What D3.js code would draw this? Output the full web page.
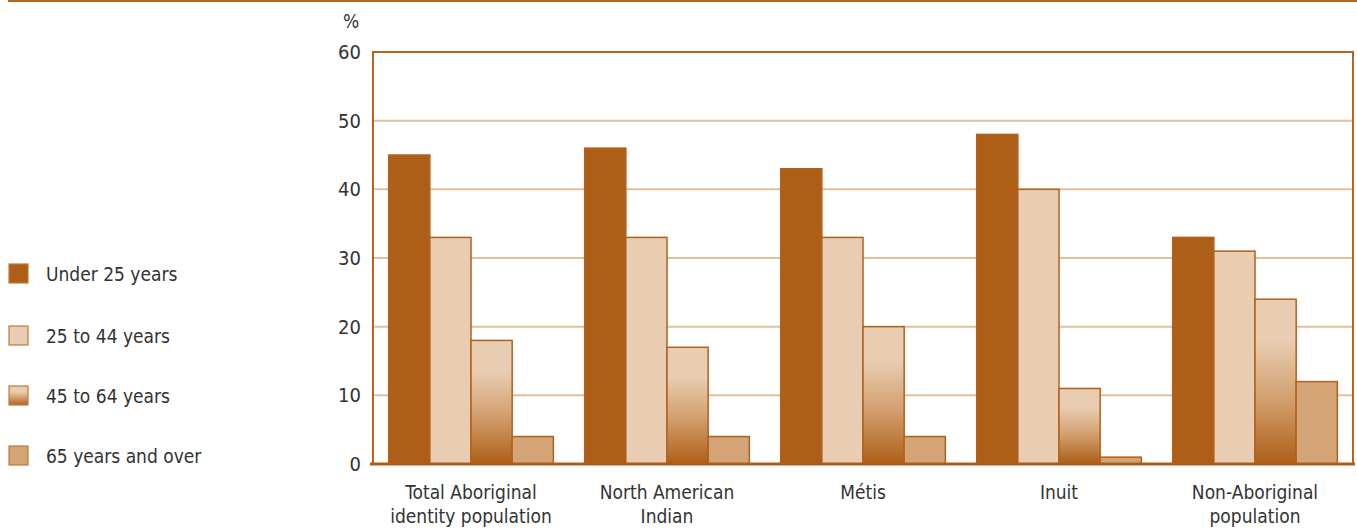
<!DOCTYPE html>
<html><head><meta charset="utf-8">
<script src="https://cdn.jsdelivr.net/npm/d3@7"></script>
<style>
body{margin:0;background:#fff;}
text{font-family:"DejaVu Sans Condensed","Liberation Sans Narrow",sans-serif;font-stretch:condensed;fill:#333;}
</style></head>
<body>
<svg id="chart" width="1357" height="529"></svg>
<script>
const categories = [["Total Aboriginal","identity population"],["North American","Indian"],["Métis"],["Inuit"],["Non-Aboriginal","population"]];
const seriesNames = ["Under 25 years","25 to 44 years","45 to 64 years","65 years and over"];
const under25 = [45,46,43,48,33];
const age25to44 = [33,33,33,40,31];
const age45to64 = [18,17,20,11,24];
const age65plus = [4,4,4,1,12];
const yTicks = [0,10,20,30,40,50,60];

const series = [under25, age25to44, age45to64, age65plus];
const svg = d3.select("#chart");
const m = {left:373, right:1353, top:52, bottom:464};
const FONT = '"DejaVu Sans Condensed","Liberation Sans Narrow",sans-serif';

// top rule
svg.append("line").attr("x1",8).attr("x2",1357).attr("y1",1).attr("y2",1)
  .attr("stroke","#b5651d").attr("stroke-width",2);

const defs = svg.append("defs");
const g = defs.append("linearGradient").attr("id","grad").attr("x1",0).attr("y1",0).attr("x2",0).attr("y2",1);
g.append("stop").attr("offset","0%").attr("stop-color","#e8cdb2");
g.append("stop").attr("offset","25%").attr("stop-color","#e8cdb2");
g.append("stop").attr("offset","60%").attr("stop-color","#d3a070");
g.append("stop").attr("offset","100%").attr("stop-color","#ad5f18");
const lg = defs.append("linearGradient").attr("id","lgrad").attr("x1",0).attr("y1",0).attr("x2",0).attr("y2",1);
lg.append("stop").attr("offset","0%").attr("stop-color","#e8cdb2");
lg.append("stop").attr("offset","30%").attr("stop-color","#e8cdb2");
lg.append("stop").attr("offset","100%").attr("stop-color","#b5651d");

const fills = ["#ad5f18","#e8cdb2","url(#grad)","#d4a476"];
const legendFills = ["#ad5f18","#e8cdb2","url(#lgrad)","#d4a476"];

const y = d3.scaleLinear().domain([0,60]).range([m.bottom,m.top]);
const x0 = d3.scaleBand().domain(d3.range(categories.length)).range([m.left,m.right]).paddingInner(0.16).paddingOuter(0.08);
const x1 = d3.scaleBand().domain(d3.range(series.length)).range([0,x0.bandwidth()]);

// gridlines
svg.append("g").selectAll("line").data(yTicks.filter(t=>t>0 && t<60)).join("line")
  .attr("x1",m.left).attr("x2",m.right).attr("y1",d=>y(d)).attr("y2",d=>y(d))
  .attr("stroke","#e3bf9c").attr("stroke-width",2);

// frame
svg.append("path").attr("d",`M${m.left},${m.bottom}V${m.top}H${m.right}V${m.bottom}`)
  .attr("fill","none").attr("stroke","#b5651d").attr("stroke-width",2);

// bars
series.forEach((vals,si)=>{
  svg.append("g").selectAll("rect").data(vals).join("rect")
    .attr("x",(d,i)=>x0(i)+x1(si))
    .attr("y",d=>y(d))
    .attr("width",x1.bandwidth())
    .attr("height",d=>y(0)-y(d))
    .attr("fill",fills[si])
    .attr("stroke","#b0621d").attr("stroke-width",1.5);
});

// bottom axis line
svg.append("line").attr("x1",m.left-3).attr("x2",m.right+2).attr("y1",m.bottom).attr("y2",m.bottom)
  .attr("stroke","#ad5f18").attr("stroke-width",3);

// y axis labels
const yAxis = d3.axisLeft(y).tickValues(yTicks).tickSize(0).tickPadding(12);
const ya = svg.append("g").attr("transform",`translate(${m.left},0)`).call(yAxis);
ya.select(".domain").remove();
ya.selectAll("text").attr("font-size",20).style("fill","#333").style("font-family",FONT);
svg.append("text").attr("x",351).attr("y",28).attr("text-anchor","middle").attr("font-size",19).text("%");

// x labels
const xl = svg.append("g").selectAll("text").data(categories).join("text")
  .attr("text-anchor","middle").attr("font-size",19)
  .attr("x",(d,i)=>x0(i)+x0.bandwidth()/2).attr("y",499);
xl.selectAll("tspan").data(d=>d).join("tspan")
  .attr("x",function(){return this.parentNode.getAttribute("x");})
  .attr("dy",(d,i)=>i===0?0:24).text(d=>d);

// legend
const legY = [274,336,396,456];
const leg = svg.append("g").selectAll("g").data(seriesNames).join("g")
  .attr("transform",(d,i)=>`translate(0,${legY[i]})`);
leg.append("rect").attr("x",9).attr("y",-10).attr("width",19).attr("height",19)
  .attr("fill",(d,i)=>legendFills[i]).attr("stroke","#c0793a").attr("stroke-width",1.2);
leg.append("text").attr("x",46).attr("y",7).attr("font-size",19).text(d=>d);
</script>
</body></html>
